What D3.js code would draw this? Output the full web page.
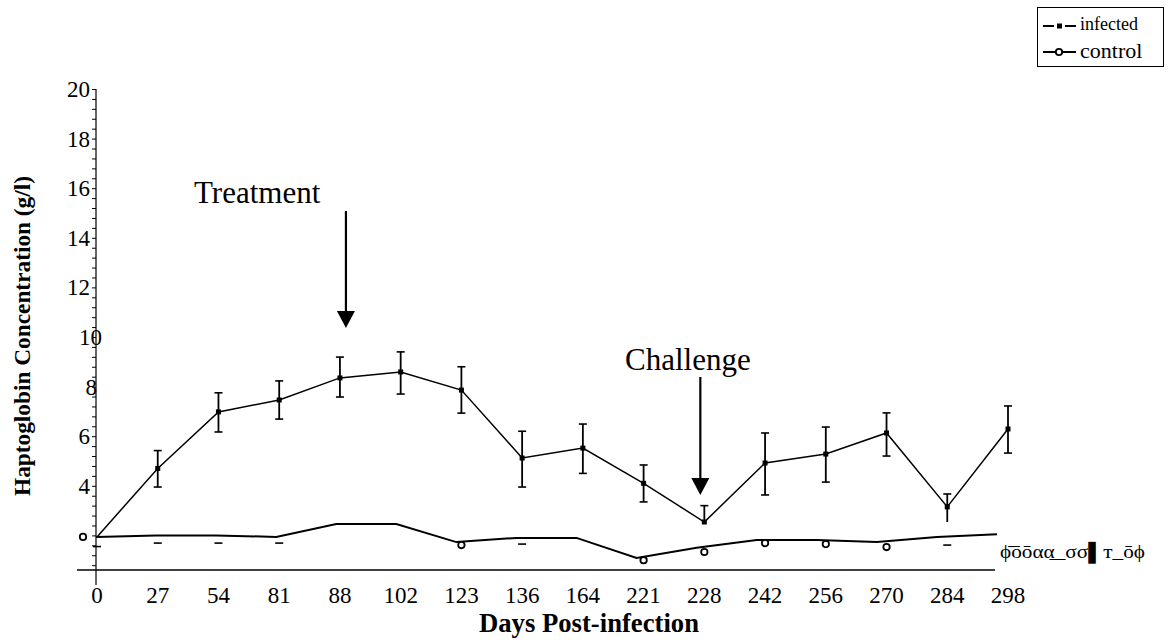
<!DOCTYPE html>
<html>
<head>
<meta charset="utf-8">
<script src="https://cdn.jsdelivr.net/npm/d3@7"></script>
<style>
  body { margin: 0; background: #fff; }
  text { font-family: "Liberation Serif", "Times New Roman", serif; fill: #000; }
</style>
</head>
<body>
<div id="chart"></div>
<script>
// data
var days = ["0","27","54","81","88","102","123","136","164","221","228","242","256","270","284","298"];
var infected     = [1.94, 4.7, 6.98, 7.46, 8.35, 8.59, 7.86, 5.12, 5.52, 4.1, 2.54, 4.92, 5.28, 6.13, 3.15, 6.29];
var infErrUp     = [0, 0.72, 0.77, 0.77, 0.84, 0.81, 0.94, 1.08, 0.97, 0.74, 0.66, 1.21, 1.09, 0.81, 0.52, 0.93];
var infErrDown   = [0, 0.75, 0.81, 0.77, 0.77, 0.89, 0.93, 1.17, 1.02, 0.75, 0, 1.29, 1.13, 0.93, 0.61, 0.97];
var controlLine  = [1.94, 2.0, 2.0, 1.94, 2.46, 2.46, 1.73, 1.9, 1.9, 1.09, 1.5, 1.81, 1.81, 1.73, 1.94, 2.05];
var controlMarks = [1.94, null, null, null, null, null, 1.61, null, null, 1.0, 1.33, 1.69, 1.65, 1.53, null, null];
var controlDash  = [1.55, 1.69, 1.69, 1.69, null, null, null, 1.65, null, null, null, null, null, null, 1.61, null];
var yLabels = [4, 6, 8, 10, 12, 14, 16, 18, 20];

var width = 1168, height = 640;

var svg = d3.select("#chart")
  .append("svg")
  .attr("width", width)
  .attr("height", height);

// scales
var x = d3.scalePoint().domain(days).range([97, 1008]);
var xc = d3.scalePoint().domain(days).range([96, 997]); // control line is drawn a bit compressed
var y = d3.scaleLinear().domain([0, 20]).range([585, 89]);

// x axis line
svg.append("line")
  .attr("x1", 77).attr("x2", 995)
  .attr("y1", 570).attr("y2", 570)
  .attr("stroke", "#000").attr("stroke-width", 1.3);

// x tick labels
svg.append("g").selectAll("text")
  .data(days).enter().append("text")
  .attr("x", function (d) { return x(d); })
  .attr("y", 603)
  .attr("text-anchor", "middle")
  .attr("font-size", "23px")
  .text(function (d) { return d; });

// y axis with minor ticks
var minor = d3.range(0.8, 20.01, 0.4);
svg.append("g")
  .attr("transform", "translate(96,0)")
  .call(d3.axisLeft(y).tickValues(minor).tickSize(4).tickFormat(""))
  .call(function (g) {
    g.select(".domain").attr("d", "M0,89V585").attr("stroke-width", 1.2);
    g.selectAll(".tick line").attr("stroke-width", 1);
  });

svg.append("g").selectAll("text")
  .data(yLabels).enter().append("text")
  .attr("x", function (d) { return d == 10 ? 102 : (d == 8 ? 97 : 90); })
  .attr("y", function (d) { return y(d) + 8; })
  .attr("text-anchor", "end")
  .attr("font-size", "23px")
  .text(function (d) { return d; });

// axis titles
svg.append("text")
  .attr("transform", "translate(30,336) rotate(-90)")
  .attr("text-anchor", "middle")
  .attr("font-size", "23px")
  .attr("font-weight", "bold")
  .attr("textLength", 320)
  .attr("lengthAdjust", "spacingAndGlyphs")
  .text("Haptoglobin Concentration (g/l)");

svg.append("text")
  .attr("x", 589)
  .attr("y", 632)
  .attr("text-anchor", "middle")
  .attr("font-size", "27px")
  .attr("font-weight", "bold")
  .attr("textLength", 220)
  .attr("lengthAdjust", "spacingAndGlyphs")
  .text("Days Post-infection");

// control series
var lineC = d3.line()
  .x(function (d, i) { return xc(days[i]); })
  .y(function (d) { return y(d); });

svg.append("path")
  .datum(controlLine)
  .attr("d", lineC)
  .attr("fill", "none")
  .attr("stroke", "#000")
  .attr("stroke-width", 2);

svg.append("g").selectAll("line")
  .data(controlDash.map(function (v, i) { return {day: days[i], v: v}; })
    .filter(function (d) { return d.v != null; }))
  .enter().append("line")
  .attr("x1", function (d) { return x(d.day) - 4; })
  .attr("x2", function (d) { return x(d.day) + 4; })
  .attr("y1", function (d) { return y(d.v); })
  .attr("y2", function (d) { return y(d.v); })
  .attr("stroke", "#000").attr("stroke-width", 1.6);

svg.append("g").selectAll("circle")
  .data(controlMarks.map(function (v, i) { return {day: days[i], v: v}; })
    .filter(function (d) { return d.v != null; }))
  .enter().append("circle")
  .attr("cx", function (d) { return x(d.day) - (d.day == "0" ? 14 : 0); })
  .attr("cy", function (d) { return y(d.v); })
  .attr("r", 3.2)
  .attr("fill", "#fff")
  .attr("stroke", "#000")
  .attr("stroke-width", 1.8);

// infected series
var lineI = d3.line()
  .x(function (d, i) { return x(days[i]); })
  .y(function (d) { return y(d); });

svg.append("path")
  .datum(infected)
  .attr("d", lineI)
  .attr("fill", "none")
  .attr("stroke", "#000")
  .attr("stroke-width", 1.5);

var bars = svg.append("g").selectAll("g")
  .data(infected.map(function (v, i) {
    return {day: days[i], v: v, up: infErrUp[i], down: infErrDown[i]};
  }).filter(function (d) { return d.up > 0; }))
  .enter().append("g");

bars.append("line")
  .attr("x1", function (d) { return x(d.day); })
  .attr("x2", function (d) { return x(d.day); })
  .attr("y1", function (d) { return y(d.v + d.up); })
  .attr("y2", function (d) { return y(d.v - d.down); })
  .attr("stroke", "#000").attr("stroke-width", 1.8);

bars.append("line")
  .attr("x1", function (d) { return x(d.day) - 4; })
  .attr("x2", function (d) { return x(d.day) + 4; })
  .attr("y1", function (d) { return y(d.v + d.up); })
  .attr("y2", function (d) { return y(d.v + d.up); })
  .attr("stroke", "#000").attr("stroke-width", 1.6);

bars.filter(function (d) { return d.down > 0 && d.day != "284"; })
  .append("line")
  .attr("x1", function (d) { return x(d.day) - 4; })
  .attr("x2", function (d) { return x(d.day) + 4; })
  .attr("y1", function (d) { return y(d.v - d.down); })
  .attr("y2", function (d) { return y(d.v - d.down); })
  .attr("stroke", "#000").attr("stroke-width", 1.6);

svg.append("g").selectAll("rect")
  .data(infected.map(function (v, i) { return {day: days[i], v: v}; }).slice(1))
  .enter().append("rect")
  .attr("x", function (d) { return x(d.day) - 2.5; })
  .attr("y", function (d) { return y(d.v) - 2.5; })
  .attr("width", 5).attr("height", 5)
  .attr("fill", "#000");

// annotations
function arrow(day, shift, top, bottom, label, lx, ly) {
  var ax = x(day) + shift;
  svg.append("text")
    .attr("x", lx).attr("y", ly)
    .attr("font-size", "31px")
    .text(label);
  svg.append("line")
    .attr("x1", ax).attr("x2", ax)
    .attr("y1", top).attr("y2", bottom - 10)
    .attr("stroke", "#000").attr("stroke-width", 2.2);
  svg.append("path")
    .attr("d", "M" + (ax - 9) + "," + (bottom - 17) + "L" + (ax + 9) + "," + (bottom - 17) + "L" + ax + "," + bottom + "Z")
    .attr("fill", "#000");
}
arrow("88", 6, 211, 328, "Treatment", 194, 203);
arrow("228", -4, 377, 495, "Challenge", 625, 370);

// garbled symbol run at the right of the x axis
svg.append("text")
  .attr("x", 1000).attr("y", 558)
  .attr("font-size", "18px")
  .attr("font-family", "DejaVu Sans")
  .attr("textLength", 145)
  .attr("lengthAdjust", "spacingAndGlyphs")
  .text("ϕ̄ōōαα̲_σσ▌т_ōϕ");

// legend
var legend = svg.append("g");
legend.append("rect")
  .attr("x", 1037.5).attr("y", 7.5)
  .attr("width", 126).attr("height", 59)
  .attr("fill", "#fff").attr("stroke", "#000");

legend.append("line")
  .attr("x1", 1043).attr("x2", 1076).attr("y1", 26).attr("y2", 26)
  .attr("stroke", "#000").attr("stroke-width", 1.8).attr("stroke-dasharray", "11,3,5,3,11");
legend.append("rect")
  .attr("x", 1057).attr("y", 23.5).attr("width", 5).attr("height", 5).attr("fill", "#000");
legend.append("text")
  .attr("x", 1080).attr("y", 30)
  .attr("font-size", "18px")
  .text("infected");

legend.append("line")
  .attr("x1", 1043).attr("x2", 1076).attr("y1", 52).attr("y2", 52)
  .attr("stroke", "#000").attr("stroke-width", 1.8);
legend.append("circle")
  .attr("cx", 1059).attr("cy", 52).attr("r", 3.2)
  .attr("fill", "#fff").attr("stroke", "#000").attr("stroke-width", 1.8);
legend.append("text")
  .attr("x", 1080).attr("y", 58)
  .attr("font-size", "22px")
  .text("control");
</script>
</body>
</html>
